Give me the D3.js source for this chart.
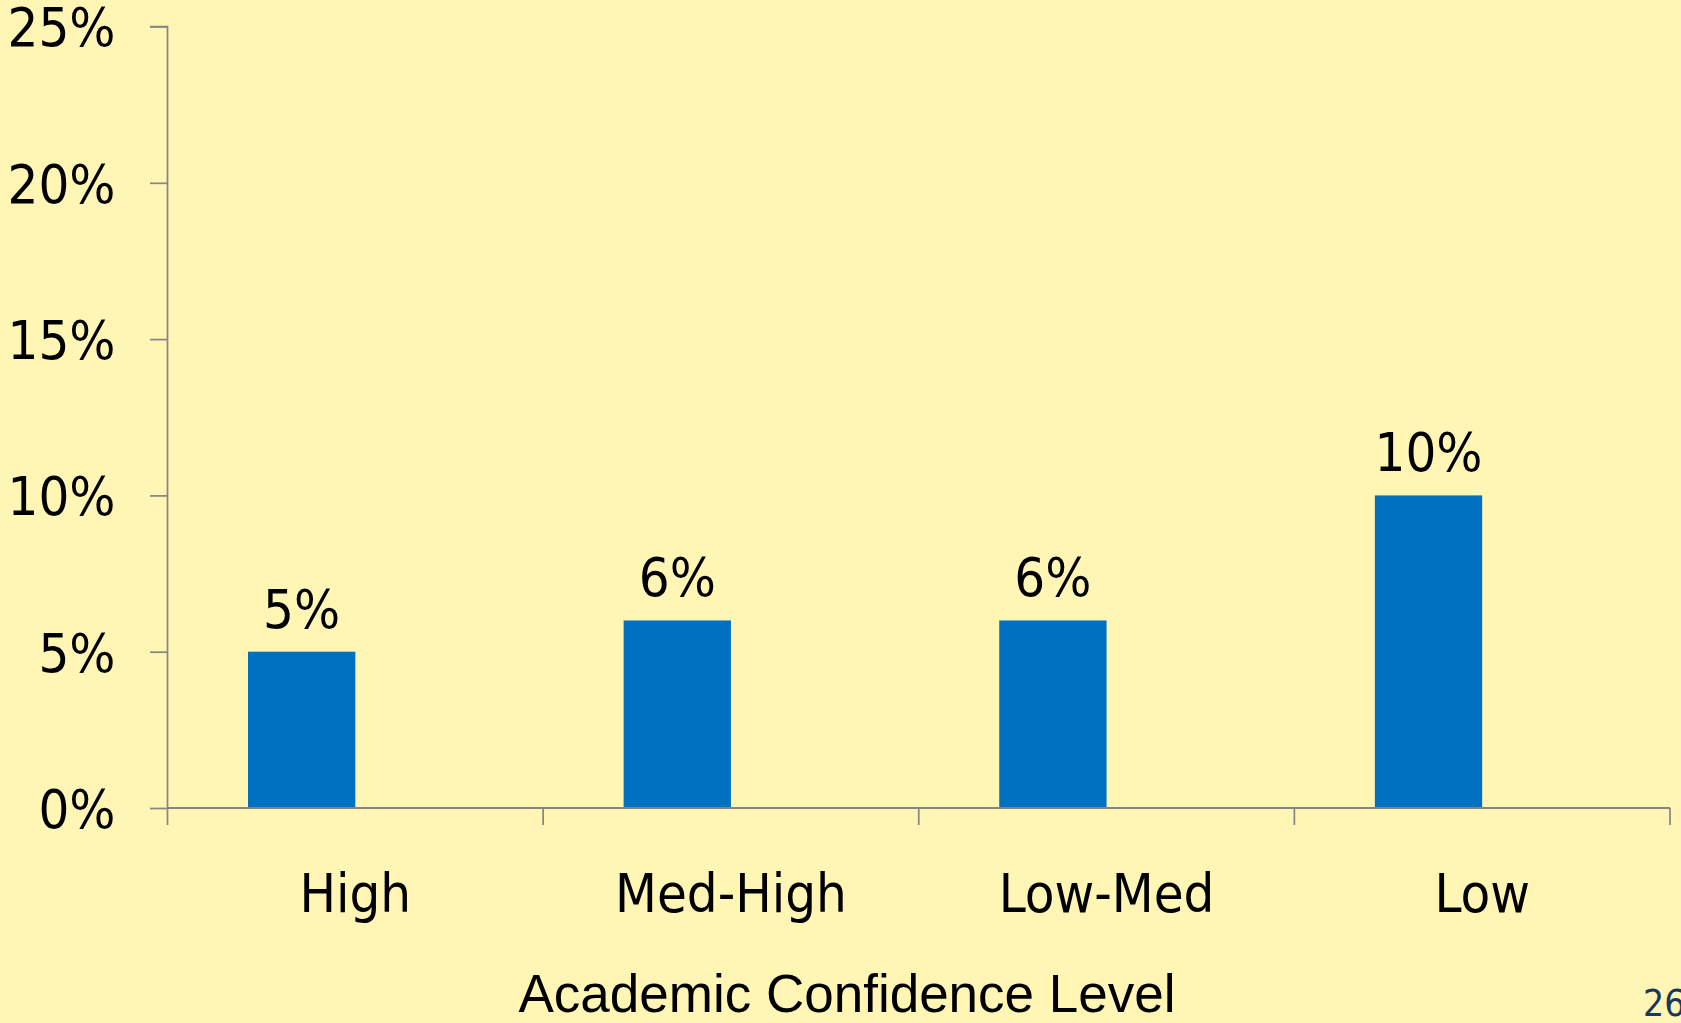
<!DOCTYPE html>
<html>
<head>
<meta charset="utf-8">
<script src="https://cdn.jsdelivr.net/npm/d3@7"></script>
<style>
  html, body { margin: 0; padding: 0; background: #FFF5B5; overflow: hidden; }
  svg { display: block; }
</style>
</head>
<body>
<script>
const categories = ["High", "Med-High", "Low-Med", "Low"];
const values = [5, 6, 6, 10];
const yTicks = [0, 5, 10, 15, 20, 25];
const axisTitle = "Academic Confidence Level";
const pageNumber = "26";

const W = 1681, H = 1023;
const mLeft = 167.5, mRight = 1670, mTop = 26.5, mBottom = 808;
const tickFont = "'DejaVu Sans Condensed', 'DejaVu Sans', sans-serif";

const svg = d3.select("body").append("svg").attr("width", W).attr("height", H);
svg.append("rect").attr("width", W).attr("height", H).attr("fill", "#FFF5B5");

const x = d3.scaleBand().domain(categories).range([mLeft, mRight]).padding(0);
const inner = d3.scaleBand().domain(["s1", "s2"]).range([0, x.bandwidth()]).paddingInner(0).paddingOuter(0.75);
const y = d3.scaleLinear().domain([0, 25]).range([mBottom, mTop]);

// bars
svg.selectAll("rect.bar").data(values).enter().append("rect")
  .attr("class", "bar")
  .attr("x", (d, i) => x(categories[i]) + inner("s1"))
  .attr("width", inner.bandwidth())
  .attr("y", d => y(d))
  .attr("height", d => y(0) - y(d))
  .attr("fill", "#0070C0");

// y axis
const yAxis = d3.axisLeft(y).tickValues(yTicks).tickSize(17.5).tickFormat(d => d + "%");
const gy = svg.append("g").attr("transform", `translate(${mLeft},0)`).call(yAxis);
gy.select(".domain").attr("stroke", "#858585").attr("stroke-width", 1.7).attr("d", `M-17.5,${mTop}H0V${mBottom}`);
gy.selectAll(".tick line").attr("stroke", "#858585").attr("stroke-width", 1.7);
gy.selectAll(".tick text")
  .attr("x", -52).attr("dy", "0.36em")
  .attr("fill", "#000").style("font-family", tickFont).style("font-size", "54px");

// x axis
const xAxis = d3.axisBottom(x).tickSize(0).tickFormat(d => d);
const gx = svg.append("g").attr("transform", `translate(0,${mBottom})`).call(xAxis);
gx.select(".domain").attr("stroke", "#858585").attr("stroke-width", 2).attr("d", `M${mLeft},0H${mRight}`);
gx.selectAll(".tick text")
  .attr("y", 104).attr("dy", 0)
  .attr("fill", "#000").style("font-family", tickFont).style("font-size", "54px");
// boundary ticks
const bounds = categories.map(c => x(c)).concat([x(categories[categories.length - 1]) + x.bandwidth()]);
gx.selectAll("line.bnd").data(bounds).enter().append("line")
  .attr("class", "bnd")
  .attr("x1", d => d).attr("x2", d => d).attr("y1", 0).attr("y2", 17)
  .attr("stroke", "#858585").attr("stroke-width", 1.7);

// value labels
svg.selectAll("text.val").data(values).enter().append("text")
  .attr("class", "val")
  .attr("x", (d, i) => x(categories[i]) + inner("s1") + inner.bandwidth() / 2)
  .attr("y", d => y(d) - 24)
  .attr("text-anchor", "middle")
  .style("font-family", tickFont).style("font-size", "54px")
  .attr("fill", "#000")
  .text(d => d + "%");

// axis title
svg.append("text")
  .attr("x", 847).attr("y", 1012)
  .attr("text-anchor", "middle")
  .style("font-family", "'Liberation Sans', Arial, sans-serif").style("font-size", "53px")
  .attr("fill", "#000")
  .text(axisTitle);

// page number
svg.append("text")
  .attr("x", 1643).attr("y", 1016)
  .style("font-family", tickFont).style("font-size", "37px")
  .attr("fill", "#17375E")
  .text(pageNumber);
</script>
</body>
</html>
